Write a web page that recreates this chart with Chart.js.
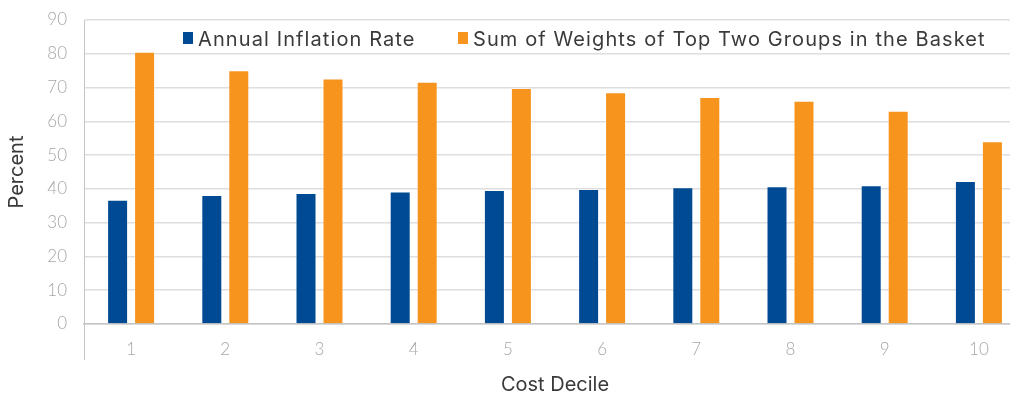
<!DOCTYPE html>
<html>
<head>
<meta charset="utf-8">
<title>Inflation rate and basket concentration by cost decile</title>
<script src="https://cdn.jsdelivr.net/npm/chart.js@4.4.1/dist/chart.umd.min.js"></script>
<style>
  html, body { margin: 0; padding: 0; background: #ffffff; overflow: hidden; }
  #wrap { width: 1030px; height: 393px; }
  canvas { display: block; }
</style>
</head>
<body>
<div id="wrap"><canvas id="chart" width="1030" height="393"></canvas></div>
<script>
// Categories and series
const deciles = ['1', '2', '3', '4', '5', '6', '7', '8', '9', '10'];
const inflationRate = [36.8, 38.2, 38.8, 39.2, 39.7, 40.0, 40.5, 40.8, 41.1, 42.3];
const topTwoWeights = [80.6, 75.1, 72.7, 71.7, 69.9, 68.6, 67.2, 66.1, 63.1, 54.1];

// Value axis
const yMin = 0;
const yMax = 90;
const yStep = 10;

// Labels
const seriesNames = ['Annual Inflation Rate', 'Sum of Weights of Top Two Groups in the Basket'];
const yTitle = 'Percent';
const xTitle = 'Cost Decile';

const BLUE = '#004a94';
const ORANGE = '#f7941d';
const TICK_GREY = '#a6a6a6';
const TEXT_DARK = '#3a3a3a';
const GRID = '#dedede';
const AXIS = '#c4c4c4';

// Legend drawn inside the plot area, beneath the top gridline
const insideLegend = {
  id: 'insideLegend',
  afterDatasetsDraw(chart, args, opts) {
    const { ctx, chartArea } = chart;
    ctx.save();
    ctx.font = opts.font;
    if ('letterSpacing' in ctx) ctx.letterSpacing = opts.letterSpacing;
    ctx.textBaseline = 'alphabetic';
    ctx.textAlign = 'left';
    chart.data.datasets.forEach((ds, i) => {
      const x = chartArea.left + opts.offsets[i];
      const y = chartArea.top + opts.top;
      ctx.fillStyle = ds.backgroundColor;
      ctx.fillRect(x, y, opts.boxW, opts.boxH);
      ctx.fillStyle = opts.color;
      ctx.fillText(ds.label, x + opts.boxW + opts.gap, y + opts.baseline);
    });
    ctx.restore();
  }
};

new Chart(document.getElementById('chart'), {
  type: 'bar',
  data: {
    labels: deciles,
    datasets: [
      {
        label: seriesNames[0],
        data: inflationRate,
        backgroundColor: BLUE,
        borderColor: 'rgba(255,255,255,0.3)',
        borderWidth: 1,
        categoryPercentage: 0.573,
        barPercentage: 0.778
      },
      {
        label: seriesNames[1],
        data: topTwoWeights,
        backgroundColor: ORANGE,
        borderColor: 'rgba(255,255,255,0.3)',
        borderWidth: 1,
        categoryPercentage: 0.573,
        barPercentage: 0.778
      }
    ]
  },
  options: {
    responsive: false,
    devicePixelRatio: 1,
    animation: false,
    layout: { padding: { top: 20, right: 4, bottom: 0, left: 0 } },
    plugins: {
      legend: { display: false },
      tooltip: { enabled: false },
      insideLegend: {
        font: '20px Inter',
        letterSpacing: '1.1px',
        color: TEXT_DARK,
        offsets: [99, 374],
        top: 12,
        boxW: 10,
        boxH: 12,
        gap: 5,
        baseline: 14
      }
    },
    scales: {
      x: {
        afterFit(scale) { scale.height = 69; },
        grid: {
          display: true,
          drawOnChartArea: false,
          drawTicks: true,
          tickLength: 36,
          lineWidth: 1,
          color: (c) => (c.index === 0 ? AXIS : 'rgba(0,0,0,0)')
        },
        border: { display: true, color: AXIS, width: 1.5 },
        ticks: {
          color: TICK_GREY,
          font: { family: 'Lato', size: 17, weight: '300' },
          padding: -21
        },
        title: {
          display: true,
          text: xTitle,
          color: TEXT_DARK,
          font: { family: 'Inter', size: 20, lineHeight: 1 },
          padding: { top: 0, bottom: -2 }
        }
      },
      y: {
        min: yMin,
        max: yMax,
        afterFit(scale) {
          scale.width = 84;
          scale.paddingTop = 0;
          scale.paddingBottom = 0;
        },
        grid: {
          color: GRID,
          lineWidth: 1.5,
          drawTicks: false
        },
        border: { display: true, color: AXIS, width: 1 },
        ticks: {
          stepSize: yStep,
          color: TICK_GREY,
          font: { family: 'Lato', size: 17, weight: '300' },
          padding: 17
        },
        title: {
          display: true,
          text: yTitle,
          color: TEXT_DARK,
          font: { family: 'Inter', size: 20 },
          padding: { top: 5, bottom: 0 }
        }
      }
    }
  },
  plugins: [insideLegend]
});
</script>
</body>
</html>
